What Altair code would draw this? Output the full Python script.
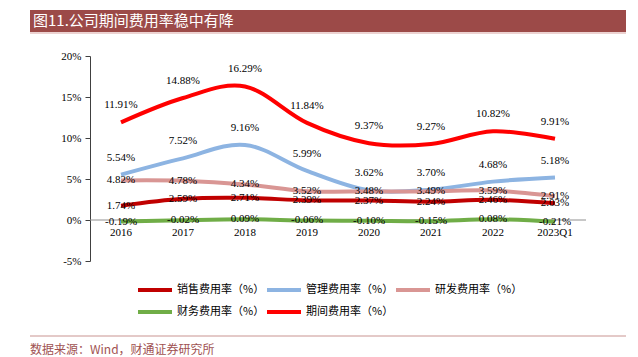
import altair as alt
import pandas as pd

years = ["2016", "2017", "2018", "2019", "2020", "2021", "2022", "2023Q1"]
series = ["销售费用率（%）", "管理费用率（%）", "研发费用率（%）", "财务费用率（%）", "期间费用率（%）"]
sales = [1.74, 2.59, 2.71, 2.39, 2.37, 2.24, 2.46, 2.03]
mgmt = [5.54, 7.52, 9.16, 5.99, 3.62, 3.70, 4.68, 5.18]
rnd = [4.82, 4.78, 4.34, 3.52, 3.48, 3.49, 3.59, 2.91]
fin = [-0.19, -0.02, 0.09, -0.06, -0.10, -0.15, 0.08, -0.21]
period = [11.91, 14.88, 16.29, 11.84, 9.37, 9.27, 10.82, 9.91]
colors = ["#C00000", "#8DB4E2", "#D99694", "#70AD47", "#FF0000"]
above_series = ["管理费用率（%）", "期间费用率（%）"]
y_ticks = [-0.05, 0, 0.05, 0.1, 0.15, 0.2]
title_text = "图11.公司期间费用率稳中有降"
source_text = "数据来源：Wind，财通证券研究所"

rows = []
for s, vals in zip(series, [sales, mgmt, rnd, fin, period]):
    for yr, v in zip(years, vals):
        rows.append({"year": yr, "series": s, "value": v / 100, "label": f"{v:.2f}%"})
df = pd.DataFrame(rows)

xs = alt.Scale(type="point", domain=years, padding=0.5)
ys = alt.Scale(domain=[-0.05, 0.2], nice=False, zero=False)
X = alt.X("year:N", scale=xs, axis=None)
Y = alt.Y(
    "value:Q",
    scale=ys,
    axis=alt.Axis(
        values=y_ticks,
        labelExpr="datum.value < 0 ? '-' + format(-datum.value, '.0%') : format(datum.value, '.0%')",
        grid=False,
        tickSize=5,
        labelPadding=4,
        domainColor="#404040",
        tickColor="#404040",
        labelFont="Liberation Serif",
        labelFontSize=11,
        labelColor="black",
        title=None,
    ),
)

zero = alt.Chart(pd.DataFrame({"value": [0.0]})).mark_rule(color="#909090", strokeWidth=1).encode(
    y=alt.Y("value:Q", scale=ys), x=alt.value(0), x2=alt.value(496)
)

lines = alt.Chart(df).mark_line(strokeWidth=4, interpolate="cardinal").encode(
    x=X,
    y=Y,
    color=alt.Color(
        "series:N",
        scale=alt.Scale(domain=series, range=colors),
        sort=series,
        legend=alt.Legend(
            title=None,
            orient="none",
            legendX=46,
            legendY=228,
            direction="horizontal",
            columns=3,
            symbolType="stroke",
            symbolStrokeWidth=4,
            symbolSize=1156,
            labelFont="Noto Sans CJK SC",
            labelFontSize=11,
            labelColor="black",
            labelOffset=3,
            columnPadding=-4,
            rowPadding=10,
            clipHeight=12,
        ),
    ),
)

labels_above = alt.Chart(df).transform_filter(
    alt.FieldOneOfPredicate(field="series", oneOf=above_series)
).mark_text(font="Liberation Serif", fontSize=11, color="black", dy=-17).encode(
    x=X, y=alt.Y("value:Q", scale=ys), text="label:N"
)
labels_on = alt.Chart(df).transform_filter(
    ~alt.FieldOneOfPredicate(field="series", oneOf=above_series)
).mark_text(font="Liberation Serif", fontSize=11, color="black").encode(
    x=X, y=alt.Y("value:Q", scale=ys), text="label:N"
)

xlab = alt.Chart(pd.DataFrame({"year": years, "value": [0.0] * len(years)})).mark_text(
    font="Liberation Serif", fontSize=11, color="black", dy=13
).encode(x=X, y=alt.Y("value:Q", scale=ys), text="year:N")

band = alt.Chart(pd.DataFrame({"t": [title_text]})).mark_rect(color="#9C4A48").encode(
    x=alt.value(-60), x2=alt.value(536), y=alt.value(-46), y2=alt.value(-24)
)
band_line = alt.Chart(pd.DataFrame({"t": [title_text]})).mark_rule(color="#E6C3C2", strokeWidth=1.5).encode(
    x=alt.value(-60), x2=alt.value(536), y=alt.value(-23)
)
title = alt.Chart(pd.DataFrame({"t": [title_text]})).mark_text(
    align="left", baseline="middle", color="white", font="Noto Sans CJK SC", fontSize=15
).encode(x=alt.value(-57), y=alt.value(-35), text="t:N")

bottom_line = alt.Chart(pd.DataFrame({"t": [source_text]})).mark_rule(color="#C99491", strokeWidth=1).encode(
    x=alt.value(-60), x2=alt.value(536), y=alt.value(280)
)
source = alt.Chart(pd.DataFrame({"t": [source_text]})).mark_text(
    align="left", baseline="middle", color="#A05252", font="Noto Sans CJK SC", fontSize=12
).encode(x=alt.value(-60), y=alt.value(294), text="t:N")

chart = alt.layer(
    band, band_line, title, zero, lines, labels_above, labels_on, xlab, bottom_line, source
).properties(
    width=496,
    height=205,
    padding={"left": 90, "top": 56, "right": 52, "bottom": 96},
    autosize=alt.AutoSizeParams(type="none"),
    background="white",
).configure_view(stroke=None)

chart.save("out.html", embed_options={"renderer": "svg", "actions": False})
